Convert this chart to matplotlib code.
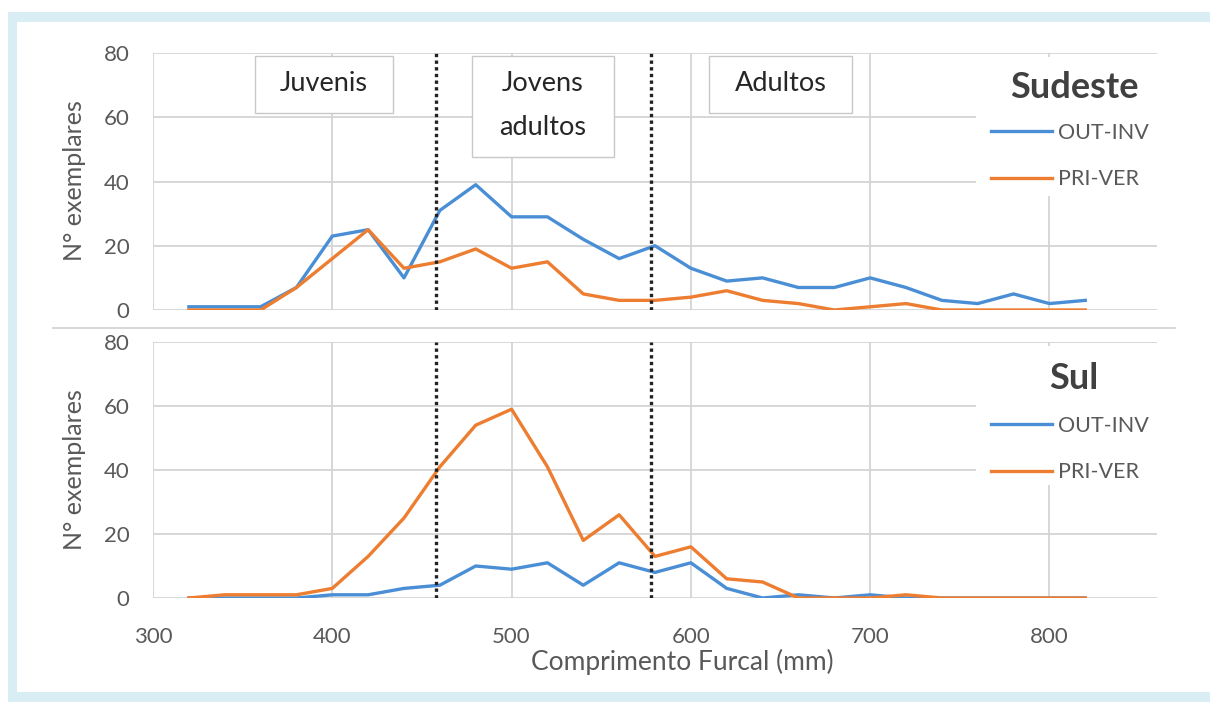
import numpy as np
import matplotlib.pyplot as plt
from matplotlib.patches import Rectangle

plt.rcParams['font.family'] = ['Lato', 'DejaVu Sans']

W, H = 1210, 702

# comprimento furcal (mm) e numero de exemplares
comprimento = [320, 340, 360, 380, 400, 420, 440, 460, 480, 500, 520, 540, 560,
               580, 600, 620, 640, 660, 680, 700, 720, 740, 760, 780, 800, 820]
sudeste_out_inv = [1, 1, 1, 7, 23, 25, 10, 31, 39, 29, 29, 22, 16,
                   20, 13, 9, 10, 7, 7, 10, 7, 3, 2, 5, 2, 3]
sudeste_pri_ver = [0, 0, 0, 7, 16, 25, 13, 15, 19, 13, 15, 5, 3,
                   3, 4, 6, 3, 2, 0, 1, 2, 0, 0, 0, 0, 0]
sul_out_inv = [0, 0, 0, 0, 1, 1, 3, 4, 10, 9, 11, 4, 11,
               8, 11, 3, 0, 1, 0, 1, 0, 0, 0, 0, 0, 0]
sul_pri_ver = [0, 1, 1, 1, 3, 13, 25, 41, 54, 59, 41, 18, 26,
               13, 16, 6, 5, 0, 0, 0, 1, 0, 0, 0, 0, 0]

limites = [458, 578]  # juvenis | jovens adultos | adultos
fases = ['Juvenis', 'Jovens\nadultos', 'Adultos']
regioes = ['Sudeste', 'Sul']
series = ['OUT-INV', 'PRI-VER']

azul = '#4a8fd6'
laranja = '#ed7d31'
cinza = '#595959'
grade = '#d4d4d4'


def fx(px):
    return px / W


def fy(py):
    return 1 - py / H


fig = plt.figure(figsize=(W / 100, H / 100), dpi=100)
fig.add_artist(Rectangle((fx(8), 0), 1, fy(12), transform=fig.transFigure,
                         facecolor='#d8eef4', edgecolor='none', zorder=-10))
fig.add_artist(Rectangle((fx(17), fy(692)), 1, fy(22) - fy(692),
                         transform=fig.transFigure, facecolor='white',
                         edgecolor='none', zorder=-9))

left, right = 153, 1157
paineis = [(53, 310), (342, 598)]  # topo e base de cada painel, px
titulo_y = [88, 378]
legenda_y = [123, 416]

dados = [(sudeste_out_inv, sudeste_pri_ver), (sul_out_inv, sul_pri_ver)]
eixos = []

for (top, bot), regiao, (out_inv, pri_ver), ty, ly in zip(paineis, regioes, dados,
                                                            titulo_y, legenda_y):
    ax = fig.add_axes([fx(left), fy(bot), fx(right - left), fy(top) - fy(bot)])
    eixos.append(ax)
    ay = lambda py: (bot - py) / (bot - top)
    ax.set_facecolor('none')
    ax.set_xlim(300, 860)
    ax.set_ylim(0, 80)
    ax.set_xticks([300, 400, 500, 600, 700, 800])
    ax.set_yticks([0, 20, 40, 60, 80])
    ax.grid(True, color=grade, lw=1.3)
    for s in ax.spines.values():
        s.set_visible(False)
    ax.tick_params(length=0, labelsize=16, labelcolor=cinza)
    ax.tick_params(axis='y', pad=17)
    ax.tick_params(axis='x', pad=21)

    l1, = ax.plot(comprimento, out_inv, color=azul, lw=2.4, label=series[0], zorder=3)
    l2, = ax.plot(comprimento, pri_ver, color=laranja, lw=2.4, label=series[1], zorder=3.1)
    for x in limites:
        ax.axvline(x, color='#222222', lw=2.4, ls=(0, (1, 1)), zorder=4)

    # area branca da legenda
    ax.add_patch(Rectangle((0.82, ay(top + 143)), 0.18, ay(top + 4) - ay(top + 143),
                           transform=ax.transAxes, facecolor='white',
                           edgecolor='none', zorder=1.6))
    ax.text((1074 - left) / (right - left), ay(ty), regiao, transform=ax.transAxes,
            ha='center', va='center', fontsize=26, fontweight='bold',
            color='#404040', zorder=5)
    leg = ax.legend(handles=[l1, l2], loc='upper left',
                    bbox_to_anchor=((991 - left) / (right - left), ay(ly)),
                    frameon=False, fontsize=15.5, labelcolor=cinza, handlelength=2.85,
                    handletextpad=0.25, labelspacing=1.22, borderpad=0, borderaxespad=0)
    for h in leg.get_lines():
        h.set_linewidth(2.4)

ax_top, ax_bot = eixos
ax_top.tick_params(axis='x', labelbottom=False)

# caixas das fases
caixas = [(357, 434, 61.3), (478, 557, 47.6), (610, 690, 61.3)]
for (x0, x1, y0), nome in zip(caixas, fases):
    ax_top.add_patch(Rectangle((x0, y0), x1 - x0, 79.1 - y0, facecolor='white',
                               edgecolor='#c8c8c8', lw=1.0, zorder=4.5))
    ax_top.text((x0 + x1) / 2, (y0 + 79.1) / 2 + 0.3, nome, ha='center', va='center',
                fontsize=19.5, color='#262626', linespacing=1.95, zorder=5)

fig.add_artist(plt.Line2D([fx(53), fx(1175)], [fy(328), fy(328)], color=grade, lw=1.3))

fig.text(fx(75), fy(181), 'N° exemplares', rotation=90, ha='center', va='center',
         fontsize=18, color=cinza)
fig.text(fx(75), fy(470), 'N° exemplares', rotation=90, ha='center', va='center',
         fontsize=18, color=cinza)
fig.text(fx(682), fy(662), 'Comprimento Furcal (mm)', ha='center', va='center',
         fontsize=19, color=cinza)

fig.savefig('out.png', dpi=100)
